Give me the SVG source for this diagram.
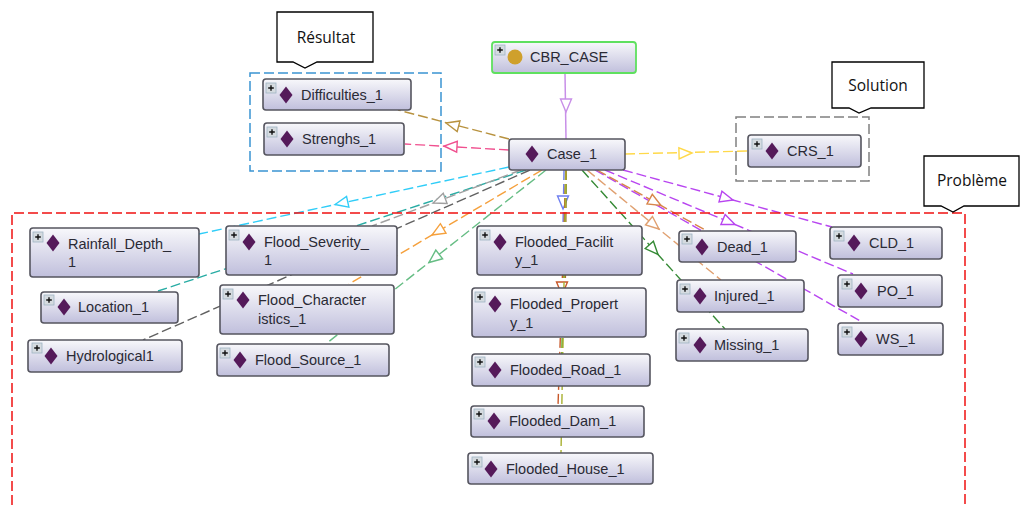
<svg xmlns="http://www.w3.org/2000/svg" width="1021" height="507" viewBox="0 0 1021 507">
<style>
text{font-family:"Liberation Sans",Arial,sans-serif;font-size:14.5px;fill:#2a2a35}
.box{fill:url(#g);stroke:#55555f;stroke-width:1.6}
.root{fill:url(#g);stroke:#5fe05f;stroke-width:1.8}
.c{fill:none;stroke-width:1.4;stroke-dasharray:10 4}
.h{fill:#fff;stroke-width:1.4}
.frame{fill:none;stroke-width:1.5;stroke-dasharray:10 4}
.call{fill:#fff;stroke:#000;stroke-width:1.3}
.cl{font-family:"Open Sans",sans-serif;font-size:15.5px;fill:#111;text-anchor:middle}
</style>
<defs>
<linearGradient id="g" x1="0" y1="0" x2="0" y2="1"><stop offset="0" stop-color="#f8f8fb"/><stop offset="1" stop-color="#c0bfdc"/></linearGradient>
<polygon id="ah" points="0,0 -13,-5.5 -13,5.5"/>
<polygon id="d" points="0,-8.5 6.5,0 0,8.5 -6.5,0" fill="#551a5a"/>
<g id="p"><rect x="0" y="0" width="10" height="10" fill="#d5dbe0" stroke="#9fb4c4" stroke-width="0.8"/><path d="M2.2 5H7.8M5 2.2V7.8" stroke="#111" stroke-width="1.4" fill="none"/></g>
</defs>

<g id="connectors">
<path class="c" stroke="#6f7ff0" d="M564 170L563 226"/>
<use href="#ah" class="h" stroke="#6f7ff0" transform="translate(563 209) rotate(90)"/>
<path class="c" stroke="#a5702a" style="stroke-width:2" d="M566 170L565 288"/>
<path class="c" stroke="#70b040" style="stroke-width:2" d="M566 170L562 354"/>
<path class="c" stroke="#c8582a" d="M566 170L558 406"/>
<use href="#ah" class="h" stroke="#c8582a" transform="translate(562 295) rotate(90)"/>
<path class="c" stroke="#a8b030" d="M566 170L561 453"/>
<path d="M565 73L566 139" fill="none" stroke="#c88fe8" stroke-width="1.5"/>
<use href="#ah" class="h" stroke="#c88fe8" transform="translate(566 112) rotate(90)"/>
<path class="c" stroke="#b8923f" d="M509 139L398 110"/>
<use href="#ah" class="h" stroke="#b8923f" transform="translate(446 123) rotate(194.6)"/>
<path class="c" stroke="#f0508f" d="M509 150L405 144"/>
<use href="#ah" class="h" stroke="#f0508f" transform="translate(444 146) rotate(183.3)"/>
<path class="c" stroke="#ffd94a" d="M625 154L748 151"/>
<use href="#ah" class="h" stroke="#ffd94a" transform="translate(692 153) rotate(-1.4)"/>
<path class="c" stroke="#30cdf8" d="M509 167L199 234"/>
<use href="#ah" class="h" stroke="#30cdf8" transform="translate(335 204.5) rotate(167.8)"/>
<path class="c" stroke="#28aca4" d="M526 170L158 291"/>
<path class="c" stroke="#a0a0a0" d="M521 170L372 226"/>
<use href="#ah" class="h" stroke="#a0a0a0" transform="translate(433 203) rotate(159.4)"/>
<path class="c" stroke="#606060" d="M530 170L143 340"/>
<path class="c" stroke="#f5a03c" d="M542 170L349 284"/>
<use href="#ah" class="h" stroke="#f5a03c" transform="translate(432 235) rotate(149.4)"/>
<path class="c" stroke="#66bd84" d="M546 170L327 343"/>
<use href="#ah" class="h" stroke="#66bd84" transform="translate(429 262.5) rotate(141.7)"/>
<path class="c" stroke="#358a35" d="M582 170L725 329"/>
<use href="#ah" class="h" stroke="#358a35" transform="translate(658 254.5) rotate(48)"/>
<path class="c" stroke="#e0a070" d="M587 170L721 280"/>
<use href="#ah" class="h" stroke="#e0a070" transform="translate(659 229) rotate(39.4)"/>
<path class="c" stroke="#b845f0" d="M595 170L862 322"/>
<path class="c" stroke="#d8854a" d="M597 170L707 231"/>
<use href="#ah" class="h" stroke="#d8854a" transform="translate(661 205.5) rotate(29)"/>
<path class="c" stroke="#b845f0" d="M605 170L853 274"/>
<use href="#ah" class="h" stroke="#b845f0" transform="translate(735 224.5) rotate(22.8)"/>
<path class="c" stroke="#b845f0" d="M623 170L832 227"/>
<use href="#ah" class="h" stroke="#b845f0" transform="translate(733 200) rotate(15.3)"/>
</g>

<g id="frames">
<rect class="frame" x="250" y="73" width="191" height="98" stroke="#3a94d2"/>
<rect class="frame" x="736" y="117" width="133" height="64" stroke="#808080"/>
<path class="frame" d="M12 505V213H965V505" stroke="#f01010"/>
</g>

<g id="n-cbr"><rect class="root" x="492" y="42" width="144" height="31" rx="3"/><use href="#p" x="495" y="45"/><circle cx="515" cy="57" r="7.5" fill="#cfa02c"/><text x="530" y="62">CBR_CASE</text></g>
<g id="n-case"><rect class="box" x="509" y="139" width="116" height="31" rx="3"/><use href="#d" x="532" y="154"/><text x="547" y="159">Case_1</text></g>
<g id="n-difficulties"><rect class="box" x="263" y="79" width="148" height="31" rx="3"/><use href="#p" x="266" y="83"/><use href="#d" x="286" y="95"/><text x="301" y="100">Difficulties_1</text></g>
<g id="n-strenghs"><rect class="box" x="264" y="123" width="140" height="32" rx="3"/><use href="#p" x="267" y="127"/><use href="#d" x="287" y="139"/><text x="302" y="144">Strenghs_1</text></g>
<g id="n-crs"><rect class="box" x="748" y="135" width="113" height="32" rx="3"/><use href="#p" x="752" y="139"/><use href="#d" x="772" y="151"/><text x="787" y="156">CRS_1</text></g>
<g id="n-cld"><rect class="box" x="830" y="227" width="112" height="32" rx="3"/><use href="#p" x="834" y="231"/><use href="#d" x="854" y="243"/><text x="869" y="248">CLD_1</text></g>
<g id="n-po"><rect class="box" x="838" y="275" width="104" height="32" rx="3"/><use href="#p" x="842" y="279"/><use href="#d" x="861" y="291"/><text x="877" y="296">PO_1</text></g>
<g id="n-ws"><rect class="box" x="838" y="323" width="105" height="32" rx="3"/><use href="#p" x="842" y="327"/><use href="#d" x="861" y="339"/><text x="876" y="344">WS_1</text></g>
<g id="n-dead"><rect class="box" x="679" y="231" width="117" height="31" rx="3"/><use href="#p" x="682" y="234"/><use href="#d" x="702" y="247"/><text x="717" y="252">Dead_1</text></g>
<g id="n-injured"><rect class="box" x="677" y="280" width="127" height="32" rx="3"/><use href="#p" x="680" y="284"/><use href="#d" x="700" y="296"/><text x="714" y="301">Injured_1</text></g>
<g id="n-missing"><rect class="box" x="676" y="329" width="132" height="32" rx="3"/><use href="#p" x="679" y="333"/><use href="#d" x="700" y="345"/><text x="714" y="350">Missing_1</text></g>
<g id="n-rainfall"><rect class="box" x="30" y="228" width="169" height="49" rx="3"/><use href="#p" x="33" y="232"/><use href="#d" x="53" y="243"/><text x="68" y="249">Rainfall_Depth_</text><text x="68" y="267">1</text></g>
<g id="n-severity"><rect class="box" x="226" y="226" width="171" height="49" rx="3"/><use href="#p" x="229" y="230"/><use href="#d" x="249" y="242"/><text x="264" y="247">Flood_Severity_</text><text x="264" y="265">1</text></g>
<g id="n-location"><rect class="box" x="41" y="292" width="137" height="31" rx="3"/><use href="#p" x="44" y="295"/><use href="#d" x="64" y="307"/><text x="78" y="312">Location_1</text></g>
<g id="n-char"><rect class="box" x="220" y="285" width="174" height="49" rx="3"/><use href="#p" x="223" y="289"/><use href="#d" x="243" y="300"/><text x="258" y="305">Flood_Character</text><text x="258" y="324">istics_1</text></g>
<g id="n-hydro"><rect class="box" x="28" y="340" width="154" height="32" rx="3"/><use href="#p" x="32" y="343"/><use href="#d" x="51" y="356"/><text x="66" y="361">Hydrological1</text></g>
<g id="n-source"><rect class="box" x="217" y="344" width="172" height="32" rx="3"/><use href="#p" x="220" y="348"/><use href="#d" x="240" y="360"/><text x="255" y="365">Flood_Source_1</text></g>
<g id="n-facility"><rect class="box" x="477" y="226" width="165" height="49" rx="3"/><use href="#p" x="480" y="230"/><use href="#d" x="500" y="242"/><text x="515" y="247">Flooded_Facilit</text><text x="515" y="265">y_1</text></g>
<g id="n-property"><rect class="box" x="472" y="288" width="174" height="49" rx="3"/><use href="#p" x="475" y="292"/><use href="#d" x="495" y="304"/><text x="510" y="309">Flooded_Propert</text><text x="510" y="328">y_1</text></g>
<g id="n-road"><rect class="box" x="472" y="354" width="178" height="32" rx="3"/><use href="#p" x="475" y="357"/><use href="#d" x="495" y="370"/><text x="510" y="375">Flooded_Road_1</text></g>
<g id="n-dam"><rect class="box" x="471" y="406" width="173" height="31" rx="3"/><use href="#p" x="474" y="409"/><use href="#d" x="494" y="421"/><text x="509" y="426">Flooded_Dam_1</text></g>
<g id="n-house"><rect class="box" x="468" y="453" width="185" height="31" rx="3"/><use href="#p" x="472" y="457"/><use href="#d" x="491" y="469"/><text x="506" y="474">Flooded_House_1</text></g>

<g id="callouts">
<path class="call" d="M277 12H373V62H317L305 68L293 62H277Z"/><text class="cl" x="326" y="43">Résultat</text>
<path class="call" d="M832 62H924V108H871L859 113L849 108H832Z"/><text class="cl" x="878" y="91">Solution</text>
<path class="call" d="M924 156H1019V206H964L953 212L941 206H924Z"/><text class="cl" x="972" y="186">Problème</text>
</g>
</svg>
